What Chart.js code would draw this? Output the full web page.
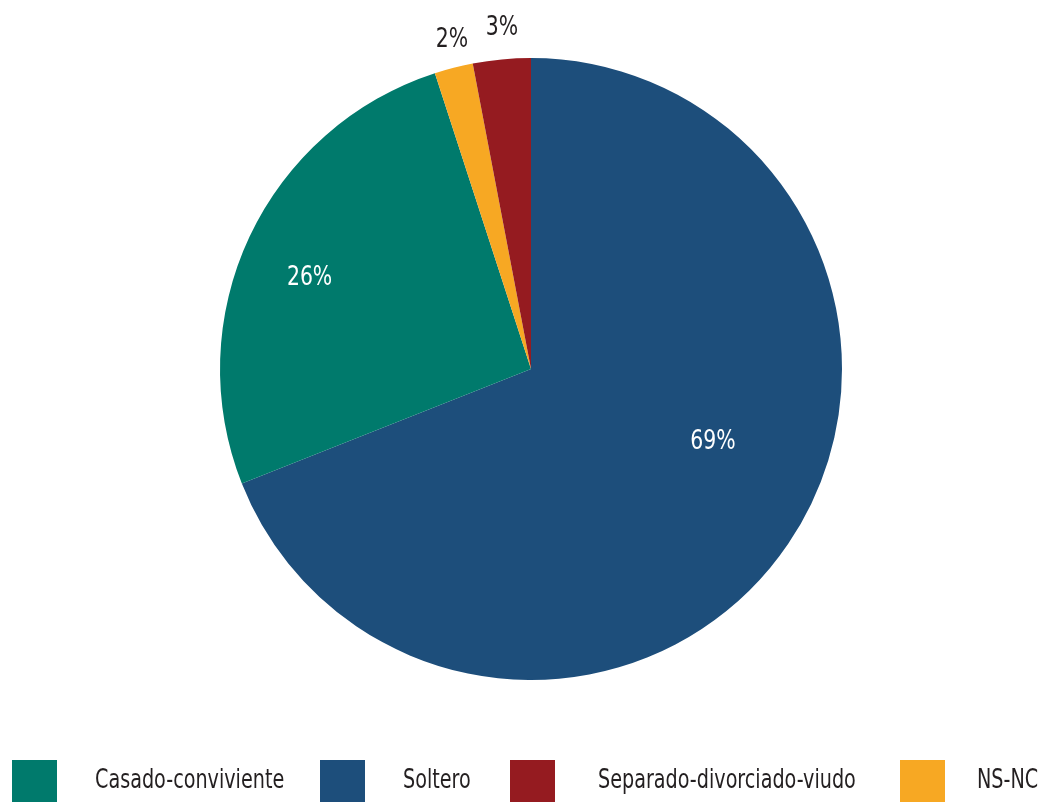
<!DOCTYPE html>
<html>
<head>
<meta charset="utf-8">
<script src="https://cdn.jsdelivr.net/npm/chart.js@4"></script>
<style>
  html, body { margin: 0; padding: 0; background: #fff; }
  #wrap { position: relative; width: 1055px; height: 802px; overflow: hidden; }
  #pie { position: absolute; left: 0; top: 0; }
  .lg-box { position: absolute; top: 760px; width: 45px; height: 44px; }
  .lg-txt { position: absolute; top: 764px; font-family: "DejaVu Sans Condensed", sans-serif;
            font-size: 26px; color: #231f20; white-space: nowrap; line-height: 30px;
            transform: scaleX(0.82); transform-origin: 0 0; }
</style>
</head>
<body>
<div id="wrap">
  <canvas id="pie" width="1055" height="802"></canvas>
  <div id="legend"></div>
</div>
<script>
// drawing order (clockwise from 12 o'clock)
const categories = ['Soltero', 'Casado-conviviente', 'NS-NC', 'Separado-divorciado-viudo'];
const values = [69, 26, 2, 3];
const sliceColors = ['#1d4e7b', '#007a6c', '#f7a823', '#951b20'];
const legendOrder = ['Casado-conviviente', 'Soltero', 'Separado-divorciado-viudo', 'NS-NC'];

// label placement: fraction along slice angle, fraction of radius, colour
const labelAlong = [0.45, 0.47, 0.62, 0.55];
const labelRadius = [0.63, 0.77, 1.087, 1.10];
const labelColor = ['#ffffff', '#ffffff', '#231f20', '#231f20'];

const pctLabels = {
  id: 'pctLabels',
  afterDatasetsDraw(chart) {
    const ctx = chart.ctx;
    const meta = chart.getDatasetMeta(0);
    meta.data.forEach((arc, i) => {
      const a = arc.startAngle + (arc.endAngle - arc.startAngle) * labelAlong[i];
      const r = arc.outerRadius * labelRadius[i];
      ctx.save();
      ctx.translate(arc.x + Math.cos(a) * r, arc.y + Math.sin(a) * r);
      ctx.scale(0.84, 1);
      ctx.font = '27px "DejaVu Sans Condensed", sans-serif';
      ctx.textAlign = 'center';
      ctx.textBaseline = 'middle';
      ctx.fillStyle = labelColor[i];
      ctx.fillText(values[i] + '%', 0, 0);
      ctx.restore();
    });
  }
};

new Chart('pie', {
  type: 'pie',
  data: {
    labels: categories,
    datasets: [{
      data: values,
      backgroundColor: sliceColors,
      borderWidth: 0
    }]
  },
  options: {
    responsive: false,
    animation: false,
    layout: { padding: { top: 58, bottom: 122, left: 220, right: 213 } },
    plugins: {
      legend: { display: false },
      tooltip: { enabled: false }
    }
  },
  plugins: [pctLabels]
});

// legend under the pie
const boxLeft = [12, 320, 510, 900];
const txtLeft = [95, 403, 598, 977];
const legend = document.getElementById('legend');
legendOrder.forEach((name, i) => {
  const box = document.createElement('div');
  box.className = 'lg-box';
  box.style.left = boxLeft[i] + 'px';
  box.style.background = sliceColors[categories.indexOf(name)];
  legend.appendChild(box);
  const t = document.createElement('div');
  t.className = 'lg-txt';
  t.style.left = txtLeft[i] + 'px';
  t.textContent = name;
  legend.appendChild(t);
});
</script>
</body>
</html>
